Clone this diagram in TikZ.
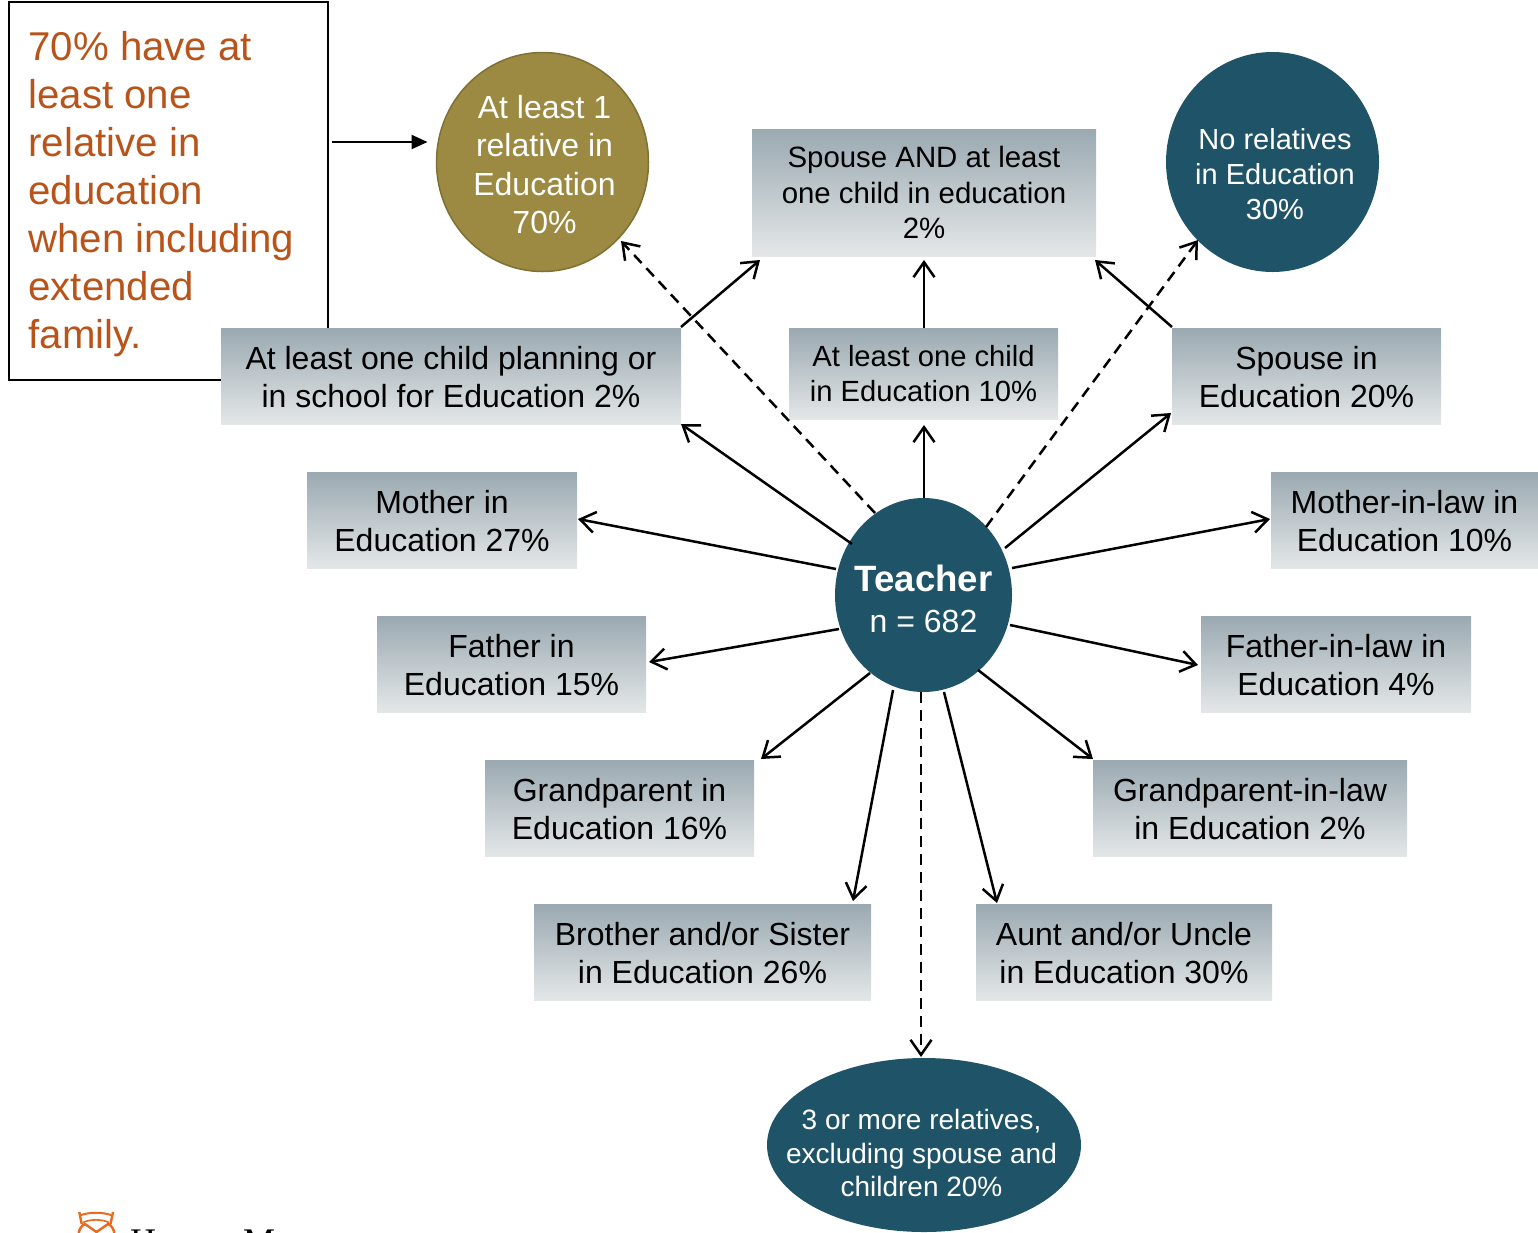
\documentclass[tikz,border=0pt]{standalone}
\usepackage{fontspec}
\setmainfont{Liberation Sans}
\newfontfamily\logofont{Liberation Serif}
\usetikzlibrary{arrows.meta,shapes.geometric}
\definecolor{teal}{HTML}{1F5468}
\definecolor{gold}{HTML}{9C8A42}
\definecolor{goldline}{HTML}{7F7035}
\definecolor{boxtop}{HTML}{9AA9B1}
\definecolor{boxbot}{HTML}{E4E7E8}
\definecolor{notetext}{HTML}{B8541A}
\definecolor{logoorange}{HTML}{E8691F}
\newcommand{\fs}[2]{\fontsize{#1}{#2}\selectfont}
\newcommand{\firstline}{\rule{0pt}{24.6pt}}
\tikzset{
  base/.style={inner sep=0pt,outer sep=0pt,align=center},
  gbox/.style={base,rectangle,top color=boxtop,bottom color=boxbot,text=black,minimum width=#1},
  gbox32/.style={gbox=#1,minimum height=96pt,font=\fs{32}{38}},
  blob/.style={base,ellipse},
  blobtext/.style={base,text=white},
  conn/.style={line width=2.5pt,-{Straight Barb[length=15pt,width=21pt,line width=2.5pt]}},
  dconn/.style={conn,dash pattern=on 11pt off 7pt},
}
\begin{document}
\begin{tikzpicture}[x=1pt,y=-1pt]
\useasboundingbox (0,0) rectangle (1538,1232);
\clip (0,0) rectangle (1538,1232);

% note
\node[base,draw=black,line width=1.5pt,rectangle,minimum width=319pt,minimum height=378pt,
  text width=280pt,align=flush left,text=notetext,font=\fs{40.2}{48}] (note) at (168.5,191)
  {\rule{0pt}{35pt}70\% have at\\least one\\relative in\\education\\when including\\extended\\family.};

% ellipses
\node[blob,fill=gold,draw=goldline,line width=1.5pt,minimum width=212pt,minimum height=219pt] (gold) at (542.5,162) {};
\node[blobtext,font=\fs{32}{38.5}] (goldtext) at (544.5,164.5) {At least 1\\relative in\\Education\\70\%};
\node[blob,fill=teal,minimum width=213pt,minimum height=220pt] (norel) at (1272.5,162) {};
\node[blobtext,font=\fs{29}{35}] (noreltext) at (1275,174) {No relatives\\in Education\\30\%};
\node[blob,fill=teal,minimum width=177pt,minimum height=194pt] (teacher) at (923.5,595) {};
\node[blobtext,font=\fs{32}{41}] (teachertext) at (923.5,599) {{\fs{36.6}{41}\bfseries Teacher}\\n = 682};
\node[blob,fill=teal,minimum width=314pt,minimum height=174pt] (three) at (924,1145) {};
\node[blobtext,font=\fs{28}{33.5}] (threetext) at (921.5,1153) {3 or more relatives,\\excluding spouse and\\children 20\%};

% boxes
\node[gbox=344pt,minimum height=127pt,font=\fs{29.4}{35.5}] (spouseand) at (924,192.5)
  {Spouse AND at least\\one child in education\\2\%};
\node[gbox32=460pt] (childplan) at (451,376) {\firstline At least one child planning or\\in school for Education 2\%};
\node[gbox=269pt,minimum height=91pt,font=\fs{29.2}{35}] (childedu) at (923.5,373.5) {At least one child\\in Education 10\%};
\node[gbox32=269pt] (spouse) at (1306.5,376) {\firstline Spouse in\\Education 20\%};
\node[gbox32=270pt] (mother) at (442,520) {\firstline Mother in\\Education 27\%};
\node[gbox32=267pt] (motherlaw) at (1404.5,520) {\firstline Mother-in-law in\\Education 10\%};
\node[gbox32=269pt] (father) at (511.5,664) {\firstline Father in\\Education 15\%};
\node[gbox32=270pt] (fatherlaw) at (1336,664) {\firstline Father-in-law in\\Education 4\%};
\node[gbox32=269pt] (grand) at (619.5,808) {\firstline Grandparent in\\Education 16\%};
\node[gbox32=314pt] (grandlaw) at (1250,808) {\firstline Grandparent-in-law\\in Education 2\%};
\node[gbox32=337pt] (sibling) at (702.5,952) {\firstline Brother and/or Sister\\in Education 26\%};
\node[gbox32=296pt] (aunt) at (1124,952) {\firstline Aunt and/or Uncle\\in Education 30\%};

% connectors from the teacher
\draw[dconn] ([shift={(-48.5,-82)}]teacher.center) -- ([shift={(78.5,79)}]gold.center);
\draw[dconn] ([shift={(62.5,-68)}]teacher.center) -- ([shift={(-74.5,78)}]norel.center);
\draw[dconn] ([shift={(-2.5,97)}]teacher.center) -- ([shift={(-3,-1)}]three.north);
\draw[conn] ([shift={(0.5,-97)}]teacher.center) -- ([shift={(0.5,6)}]childedu.south);
\draw[conn] ([shift={(-71.5,-51)}]teacher.center) -- (childplan.south east);
\draw[conn] ([shift={(-87.5,-26)}]teacher.center) -- ([shift={(1,-1)}]mother.east);
\draw[conn] ([shift={(-84.5,34)}]teacher.center) -- ([shift={(3,-2)}]father.east);
\draw[conn] ([shift={(-53.5,78)}]teacher.center) -- ([shift={(7,-1)}]grand.north east);
\draw[conn] ([shift={(-30.5,95)}]teacher.center) -- ([shift={(150.5,-3)}]sibling.north);
\draw[conn] ([shift={(20.5,97)}]teacher.center) -- ([shift={(-127,-1)}]aunt.north);
\draw[conn] ([shift={(54.5,75)}]teacher.center) -- ([shift={(0,-1)}]grandlaw.north west);
\draw[conn] ([shift={(86.5,30)}]teacher.center) -- ([shift={(-3,1)}]fatherlaw.west);
\draw[conn] ([shift={(88.5,-27)}]teacher.center) -- ([shift={(-1,-1)}]motherlaw.west);
\draw[conn] ([shift={(81.5,-47)}]teacher.center) -- ([shift={(-1,-11)}]spouse.south west);

% connectors into the top box
\draw[conn] ([shift={(0,-1)}]childplan.north east) -- ([shift={(8,4)}]spouseand.south west);
\draw[conn] ([shift={(0.5,0)}]childedu.north) -- ([shift={(0,4)}]spouseand.south);
\draw[conn] ([shift={(0,-1)}]spouse.north west) -- ([shift={(-1,4)}]spouseand.south east);

% note arrow
\draw[line width=2.2pt,-{Triangle[length=16pt,width=14pt]}] ([shift={(4,-49)}]note.east) -- ([shift={(-9,-20)}]gold.west);

% logo, cut by the page edge
\node[anchor=base west,inner sep=0pt,text=black,font=\logofont\fs{36}{40}] (logotext) at (130,1253) {Horace Mann};
\draw[logoorange,line width=2.4pt] (79.3,1212) -- (81.7,1224) (113,1212) -- (110.5,1224);
\draw[logoorange,line width=2pt] (81,1215) .. controls (90,1212) and (102,1212) .. (111,1215);
\draw[logoorange,line width=1.6pt] (83,1222.5) .. controls (90,1219) and (102,1219) .. (109,1222.5);
\draw[logoorange,line width=2.4pt] (78.5,1234) .. controls (79,1229) and (82,1225) .. (85,1224) -- (96.5,1232) -- (108,1224) .. controls (111,1225) and (114,1229) .. (114.5,1234);
\end{tikzpicture}
\end{document}
